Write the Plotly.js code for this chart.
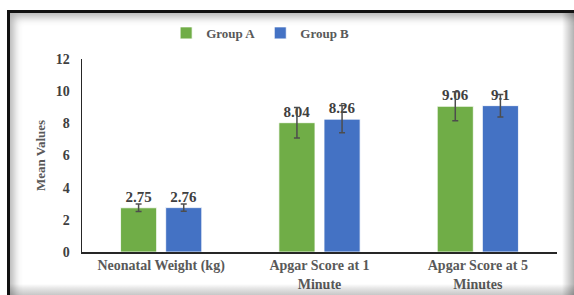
<!DOCTYPE html>
<html>
<head>
<meta charset="utf-8">
<script src="https://cdn.plot.ly/plotly-3.0.1.min.js"></script>
<style>
html,body{margin:0;padding:0;background:#fff;}
#wrap{position:relative;width:574px;height:295px;overflow:hidden;}
#chart{position:absolute;left:0;top:0;width:574px;height:295px;}
#frame{position:absolute;left:7px;top:10px;width:580px;height:300px;box-sizing:border-box;
 border-left:3px solid #111;border-top:3px solid #111;
 box-shadow: inset 7px 7px 9px -3px rgba(0,0,0,0.30);pointer-events:none;}
#rshade{position:absolute;left:562px;top:13px;width:12px;height:282px;
 background:linear-gradient(to right, rgba(0,0,0,0) 0%, rgba(0,0,0,0.12) 40%, rgba(0,0,0,0.30) 100%);pointer-events:none;}
#bshade{position:absolute;left:10px;top:284px;width:564px;height:11px;
 background:linear-gradient(to bottom, rgba(0,0,0,0) 0%, rgba(0,0,0,0.10) 40%, rgba(0,0,0,0.22) 100%);pointer-events:none;}
</style>
</head>
<body>
<div id="wrap">
<div id="chart"></div>
<div id="rshade"></div>
<div id="bshade"></div>
<div id="frame"></div>
</div>
<script>
var categories = ["Neonatal Weight (kg)", "Apgar Score at 1<br>Minute", "Apgar Score at 5<br>Minutes"];
var groupA = [2.75, 8.04, 9.06];
var groupB = [2.76, 8.26, 9.1];
var errA = [0.23, 0.95, 0.9];
var errB = [0.23, 0.85, 0.7];
var labelsA = ["2.75", "8.04", "9.06"];
var labelsB = ["2.76", "8.26", "9.1"];

var serif = "Liberation Serif, Times New Roman, serif";
function mk(name, y, err, labels, color) {
  return {
    type: "bar", name: name, x: categories, y: y,
    marker: {color: color, line: {color: "#ffffff", width: 0.8}},
    text: labels, textposition: "outside", cliponaxis: false,
    textfont: {family: serif, size: 15, color: "#404040", weight: "bold"},
    error_y: {type: "data", array: err, visible: true, color: "#4d4d4d", thickness: 1.5, width: 3}
  };
}
var data = [mk("Group A", groupA, errA, labelsA, "#70AD47"), mk("Group B", groupB, errB, labelsB, "#4472C4")];

var layout = {
  width: 574, height: 295,
  margin: {l: 82, r: 17, t: 59, b: 43},
  paper_bgcolor: "rgba(0,0,0,0)", plot_bgcolor: "rgba(0,0,0,0)",
  barmode: "group", bargap: 0.43, bargroupgap: 0.2,
  font: {family: serif, color: "#595959"},
  showlegend: true,
  legend: {orientation: "h", x: 0.375, xanchor: "center", y: 1.135, yanchor: "middle",
    font: {family: serif, size: 13, color: "#595959", weight: "bold"}, itemwidth: 30, traceorder: "normal"},
  xaxis: {showline: true, linecolor: "#262626", linewidth: 1.5, ticks: "", showgrid: false,
    tickfont: {family: serif, size: 14, color: "#595959", weight: "bold"}, range: [-0.5, 2.5]},
  yaxis: {range: [0, 12], dtick: 2, showline: true, linecolor: "#262626", linewidth: 1.5, ticks: "",
    showgrid: false, zeroline: false, ticklabelstandoff: 8,
    tickfont: {family: serif, size: 14, color: "#404040", weight: "bold"},
    title: {text: "Mean Values", font: {family: serif, size: 13, color: "#595959", weight: "bold"}, standoff: 7}}
};
Plotly.newPlot("chart", data, layout, {staticPlot: true, displayModeBar: false});
</script>
</body>
</html>
